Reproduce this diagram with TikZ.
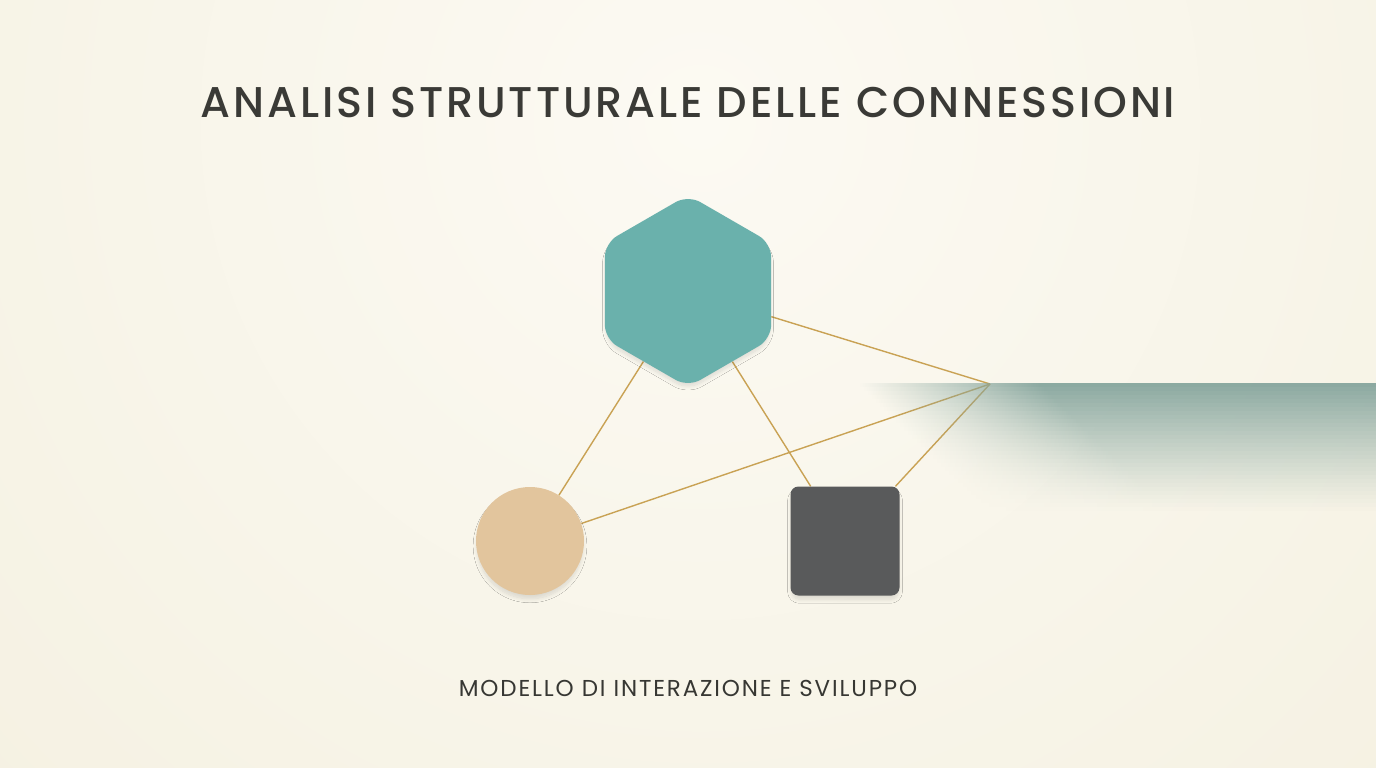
\documentclass[tikz,border=0pt]{standalone}
\usepackage{fontspec}
\setmainfont{Poppins}
\newfontfamily\titlefont[LetterSpace=6.6]{Poppins Medium}
\newfontfamily\subfont[LetterSpace=8]{Poppins}
\usepackage{tikz}
\usetikzlibrary{shapes.geometric, fadings, shadows.blur}

\definecolor{bgcream}{HTML}{F5F1E2}
\definecolor{bglight}{HTML}{FCFAF3}
\definecolor{hexteal}{HTML}{6AB1AC}
\definecolor{sand}{HTML}{E2C59D}
\definecolor{slate}{HTML}{595A5B}
\definecolor{goldline}{HTML}{C9A254}
\definecolor{bandteal}{HTML}{87A69E}
\definecolor{inkgray}{HTML}{3A3A36}

\pgfdeclarelayer{background}
\pgfsetlayers{background,main}

\tikzfading[name=band fade, left color=transparent!100, right color=transparent!0]

\begin{document}
\begin{tikzpicture}[
            x=1pt, y=-1pt,
            blob/.style={draw=none, inner sep=0pt, blur shadow={shadow blur steps=10, shadow blur radius=4pt, shadow xshift=0pt, shadow yshift=-5pt, shadow opacity=12, shadow scale=0.98}}, % soft shapes
            link/.style={goldline, line width=1.4pt}, % thin gold connectors
            title/.style={font=\titlefont\fontsize{43}{48}\selectfont, text=inkgray},
            subtitle/.style={font=\subfont\fontsize{23}{26}\selectfont, text=inkgray!95!black}
            ]

        % Page frame
        \useasboundingbox (0,0) rectangle (1376,768);

        % Titles
        \node[title] (title) at (688,103) {ANALISI STRUTTURALE DELLE CONNESSIONI};
        \node[subtitle] (subtitle) at (688,688) {MODELLO DI INTERAZIONE E SVILUPPO};

        % Shapes
        \node[blob, regular polygon, regular polygon sides=6, shape border rotate=30,
              minimum size=192pt, rounded corners=14pt, fill=hexteal] (hex) at (688,291) {};
        \node[blob, circle, minimum size=108pt, fill=sand] (circ) at (530,541) {};
        \node[blob, rectangle, minimum size=109pt, rounded corners=8pt, fill=slate] (sq) at (845,541) {};
        \coordinate (hub) at (990,384);

        % Background, connectors and band
        \begin{pgfonlayer}{background}
            \clip (0,0) rectangle (1376,768);
            \shade[inner color=bglight, outer color=bgcream] (700,120) circle (1000);
            \draw[link] (hex) -- (circ);
            \draw[link] (hex) -- (sq);
            \draw[link] (hex) -- (hub);
            \draw[link] (circ) -- (hub);
            \draw[link] (sq) -- (hub);
            % band: strips fading downwards, each fading in from the left
            \foreach \i in {0,...,31} {
                \pgfmathsetmacro{\op}{0.95*(1-\i/32)^1.15}
                \pgfmathsetmacro{\xa}{860+4*\i}
                \fill[bandteal, opacity=\op, path fading=band fade] (\xa,383+4*\i) rectangle (\xa+180,387+4*\i);
                \fill[bandteal, opacity=\op] (\xa+180,383+4*\i) rectangle (1376,387+4*\i);
            }
        \end{pgfonlayer}

\end{tikzpicture}
\end{document}
